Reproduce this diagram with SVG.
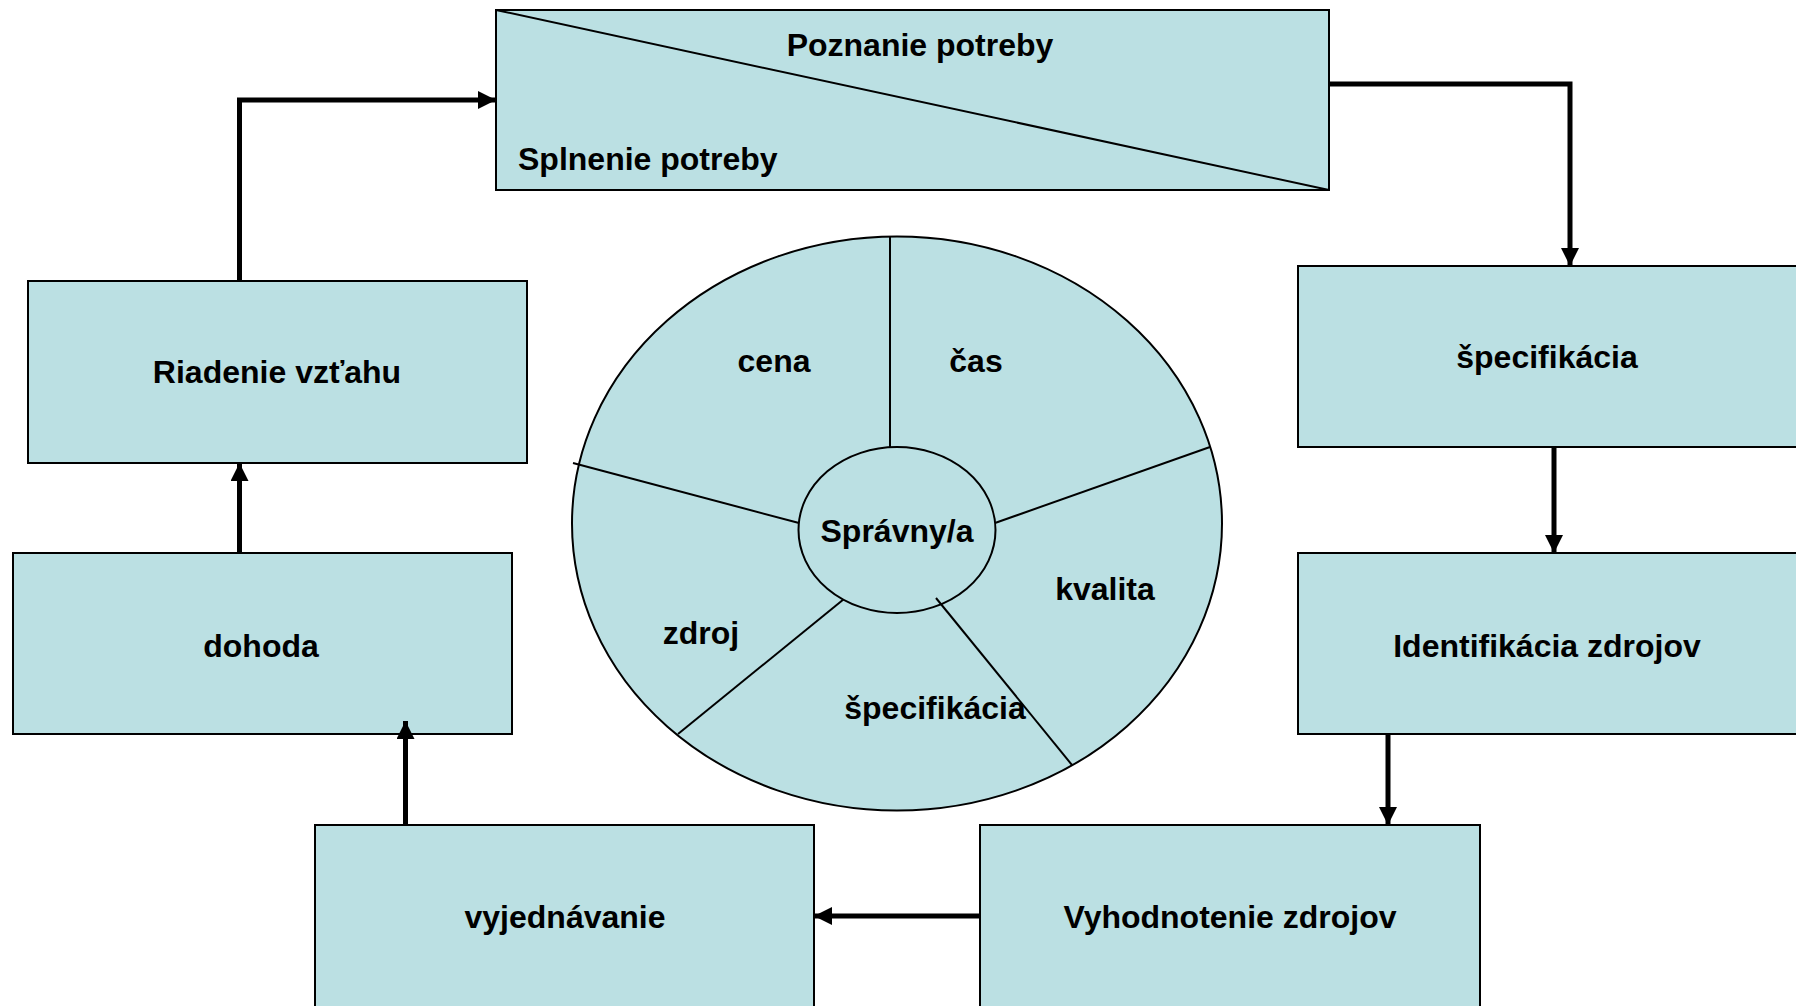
<svg xmlns="http://www.w3.org/2000/svg" width="1796" height="1006" viewBox="0 0 1796 1006">
<style>
.box{fill:#BBE0E3;stroke:#000;stroke-width:2}
.thin{fill:none;stroke:#000;stroke-width:2}
.t{font-family:"Liberation Sans",Arial,sans-serif;font-weight:bold;font-size:32px;fill:#000}
.c{text-anchor:middle}
.conn{fill:none;stroke:#000;stroke-width:5}
</style>
<defs>
<marker id="ah" viewBox="0 0 10 10" refX="10" refY="5" markerWidth="19" markerHeight="18" markerUnits="userSpaceOnUse" orient="auto">
<path d="M0,0 L10,5 L0,10 Z" fill="#000"/>
</marker>
</defs>
<rect width="1796" height="1006" fill="#fff"/>

<g id="poznanie">
<rect class="box" x="496" y="10" width="833" height="180"/>
<line class="thin" x1="496" y1="10" x2="1329" y2="190"/>
<text class="t c" x="920" y="56">Poznanie potreby</text>
<text class="t" x="518" y="170">Splnenie potreby</text>
</g>

<g id="riadenie">
<rect class="box" x="28" y="281" width="499" height="182"/>
<text class="t c" x="277" y="383">Riadenie vzťahu</text>
</g>

<g id="dohoda">
<rect class="box" x="13" y="553" width="499" height="181"/>
<text class="t c" x="261" y="657">dohoda</text>
</g>

<g id="vyjednavanie">
<rect class="box" x="315" y="825" width="499" height="200"/>
<text class="t c" x="565" y="928">vyjednávanie</text>
</g>

<g id="vyhodnotenie">
<rect class="box" x="980" y="825" width="500" height="200"/>
<text class="t c" x="1230" y="928">Vyhodnotenie zdrojov</text>
</g>

<g id="specifikacia">
<rect class="box" x="1298" y="266" width="510" height="181"/>
<text class="t c" x="1547" y="368">špecifikácia</text>
</g>

<g id="identifikacia">
<rect class="box" x="1298" y="553" width="510" height="181"/>
<text class="t c" x="1547" y="657">Identifikácia zdrojov</text>
</g>

<g id="kruh">
<ellipse class="box" cx="897" cy="523.5" rx="325" ry="287"/>
<line class="thin" x1="890" y1="236" x2="890" y2="447"/>
<line class="thin" x1="1210" y1="447" x2="995" y2="523"/>
<line class="thin" x1="573" y1="463" x2="799" y2="523"/>
<line class="thin" x1="678" y1="734" x2="844" y2="599"/>
<ellipse class="box" cx="897" cy="530" rx="98.5" ry="83"/>
<line class="thin" x1="936" y1="598" x2="1072" y2="765"/>
<text class="t c" x="774" y="372">cena</text>
<text class="t c" x="976" y="372">čas</text>
<text class="t c" x="897" y="542">Správny/a</text>
<text class="t c" x="1105" y="600">kvalita</text>
<text class="t c" x="701" y="644">zdroj</text>
<text class="t c" x="935" y="719">špecifikácia</text>
</g>

<g id="connectors">
<polyline class="conn" points="239.5,281 239.5,100 496,100" marker-end="url(#ah)"/>
<polyline class="conn" points="1329,84 1570,84 1570,266" marker-end="url(#ah)"/>
<line class="conn" x1="1554" y1="447" x2="1554" y2="553" marker-end="url(#ah)"/>
<line class="conn" x1="1388" y1="734" x2="1388" y2="825" marker-end="url(#ah)"/>
<line class="conn" x1="980" y1="916" x2="814" y2="916" marker-end="url(#ah)"/>
<line class="conn" x1="405.5" y1="825" x2="405.5" y2="721" marker-end="url(#ah)"/>
<line class="conn" x1="239.5" y1="553" x2="239.5" y2="463" marker-end="url(#ah)"/>
</g>
</svg>
